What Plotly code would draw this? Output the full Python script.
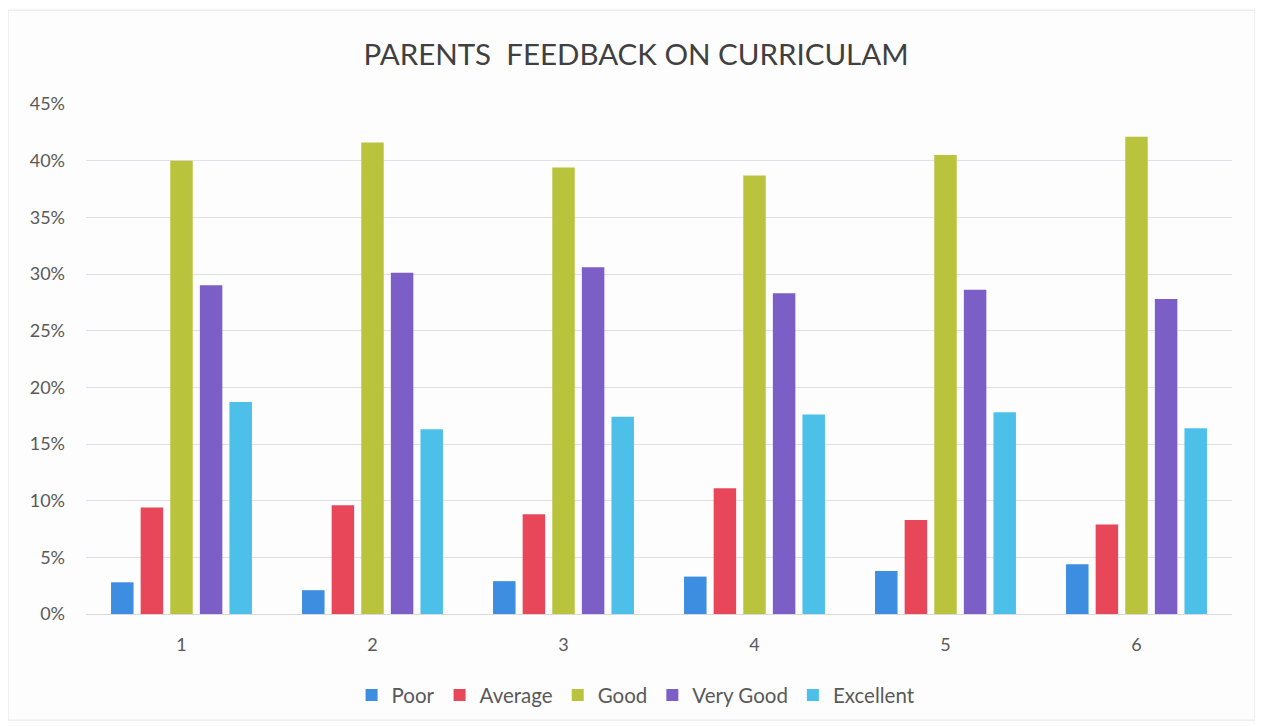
import plotly.graph_objects as go

categories = ["1", "2", "3", "4", "5", "6"]
poor = [0.028, 0.021, 0.029, 0.033, 0.038, 0.044]
average = [0.094, 0.096, 0.088, 0.111, 0.083, 0.079]
good = [0.400, 0.416, 0.394, 0.387, 0.405, 0.421]
very_good = [0.290, 0.301, 0.306, 0.283, 0.286, 0.278]
excellent = [0.187, 0.163, 0.174, 0.176, 0.178, 0.164]

series = [
    ("Poor", poor, "#3d8de0"),
    ("Average", average, "#e8475a"),
    ("Good", good, "#b9c43c"),
    ("Very Good", very_good, "#7c5fc6"),
    ("Excellent", excellent, "#4dc0ea"),
]

fig = go.Figure()
for name, vals, color in series:
    fig.add_trace(go.Bar(x=categories, y=vals, name=name, marker=dict(color=color, line=dict(width=0))))

font_family = "Lato, 'Open Sans', sans-serif"

fig.update_layout(
    width=1263,
    height=726,
    barmode="group",
    bargap=0.225,
    bargroupgap=0.24,
    paper_bgcolor="#fdfdfd",
    plot_bgcolor="#fdfdfd",
    margin=dict(l=78, r=39, t=96, b=120),
    title=dict(
        text="PARENTS  FEEDBACK ON CURRICULAM",
        xref="paper", x=0.48, xanchor="center",
        y=1 - 47 / 726, yanchor="middle",
        font=dict(family=font_family, size=29.5, color="#404040"),
    ),
    font=dict(family=font_family, color="#595959"),
    legend=dict(
        orientation="h",
        x=0.48, xanchor="center",
        y=-0.159, yanchor="middle",
        font=dict(size=20.5, color="#595959"),
        bgcolor="rgba(0,0,0,0)",
        itemwidth=30,
    ),
    xaxis=dict(
        type="category",
        showgrid=False,
        showline=True,
        linecolor="#d9d9d9",
        linewidth=1,
        ticks="",
        tickfont=dict(size=18, color="#595959"),
        ticklabelstandoff=14,
    ),
    yaxis=dict(
        range=[0, 0.45],
        dtick=0.05,
        tickformat=".0%",
        showgrid=True,
        gridcolor="#e2dfe8",
        gridwidth=1,
        zeroline=False,
        showline=False,
        ticks="",
        tickfont=dict(size=18, color="#595959"),
        ticklabelstandoff=20,
    ),
    shapes=[
        dict(type="rect", xref="paper", yref="paper",
             x0=-0.068, x1=1.020, y0=-0.208, y1=1.184,
             line=dict(color="#e6e6e6", width=1), fillcolor="rgba(0,0,0,0)", layer="below"),
    ],
)

fig.write_html("out.html")
